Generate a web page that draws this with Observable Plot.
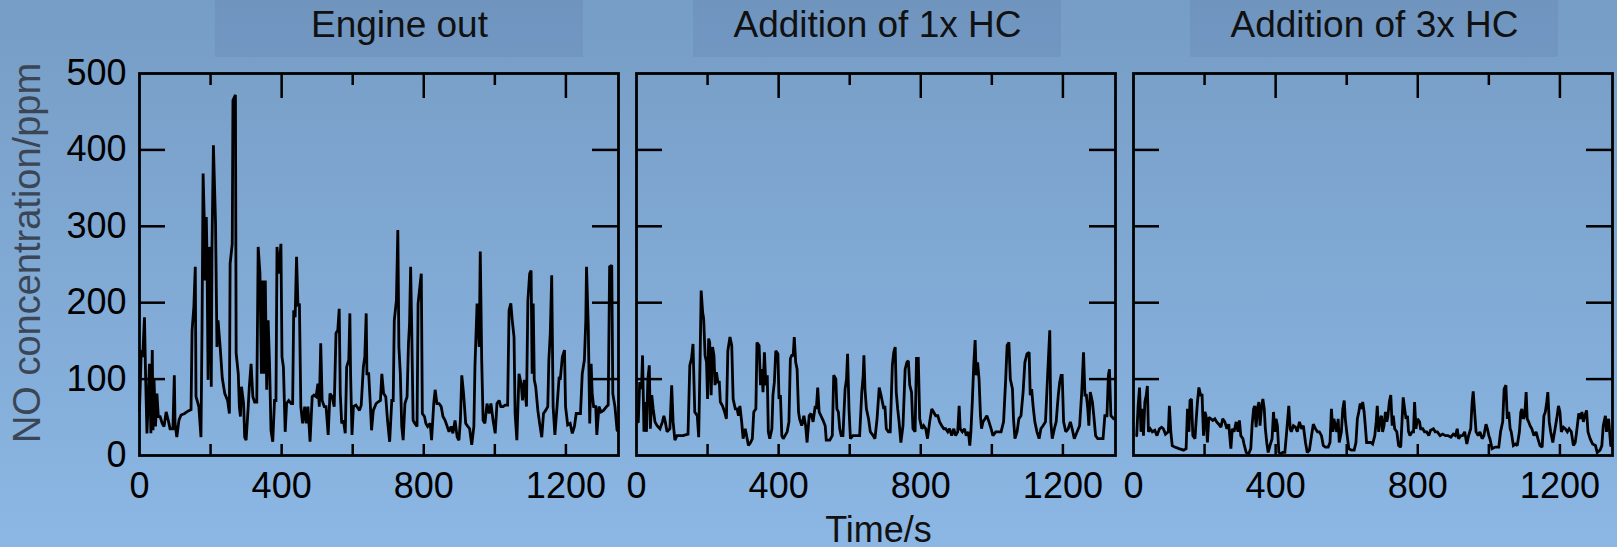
<!DOCTYPE html>
<html>
<head>
<meta charset="utf-8">
<script src="https://cdn.jsdelivr.net/npm/d3@7"></script>
<script src="https://cdn.jsdelivr.net/npm/@observablehq/plot@0.6"></script>
<style>
  html, body { margin: 0; padding: 0; overflow: hidden; }
  body {
    width: 1617px; height: 547px;
    background: linear-gradient(to bottom, #769dc5 0%, #80a9d4 50%, #8cb7e4 100%);
    font-family: "Liberation Sans", Arial, sans-serif;
  }
</style>
</head>
<body>
<div id="chart"></div>
<script>
// ---------- data ----------
const panels = ["Engine out", "Addition of 1x HC", "Addition of 3x HC"];
const xTicks = [0, 400, 800, 1200];
const xMinorTicks = [200, 600, 1000];
const yTicks = [0, 100, 200, 300, 400, 500];
const yLabel = "NO concentration/ppm";
const xLabel = "Time/s";

// Engine out
const time1 = [0,5,9,14,17,21,24,28,32,36,38,41,45,49,53,58,64,69,75,81,86,94,98,100,105,111,117,127,136,145,148,153,157,159,167,173,176,179,182,185,188,190,193,196,199,202,204,208,214,218,221,227,233,240,248,253,255,261,263,270,272,278,281,284,287,293,296,300,306,309,314,319,324,330,334,339,343,347,351,354,358,362,366,370,375,380,384,387,392,398,401,405,410,414,420,427,431,434,438,442,446,450,454,459,465,469,474,480,486,491,497,502,506,510,514,520,525,531,536,542,548,553,558,562,565,569,574,579,583,589,592,594,598,602,609,619,624,630,634,638,640,645,649,653,658,666,671,678,682,687,693,698,704,710,714,717,723,727,730,734,738,742,747,753,757,760,763,766,770,775,781,784,789,793,796,802,806,811,818,822,828,832,837,843,849,854,860,866,871,877,882,888,894,899,903,907,912,918,924,929,935,941,944,950,956,959,963,967,972,978,984,989,995,1001,1006,1012,1017,1023,1029,1036,1040,1045,1049,1054,1057,1062,1068,1074,1078,1083,1089,1093,1098,1102,1105,1108,1111,1115,1121,1126,1132,1137,1143,1149,1152,1156,1160,1164,1169,1175,1181,1184,1190,1196,1199,1205,1212,1218,1224,1229,1235,1241,1246,1252,1256,1258,1263,1267,1271,1274,1278,1284,1287,1293,1299,1306,1314,1319,1323,1329,1332,1338,1344];
const no1 = [59,138,129,181,107,29,64,120,29,138,33,99,38,81,51,51,42,38,57,46,35,35,105,42,24,46,53,55,58,60,164,195,247,77,64,24,168,369,312,229,312,260,99,273,238,90,273,406,304,142,177,142,101,81,72,55,251,277,465,472,134,107,64,51,90,68,24,20,64,90,120,77,70,70,273,238,107,229,107,229,86,177,120,33,18,72,72,273,238,277,129,116,31,68,72,68,68,190,181,260,195,199,64,42,64,42,64,18,77,79,77,94,64,147,72,64,64,27,81,77,64,160,164,192,81,42,46,29,116,125,186,107,27,64,66,59,66,116,129,186,107,107,72,33,59,68,70,72,107,81,77,46,18,72,72,177,203,295,142,107,38,20,68,77,147,173,247,168,46,42,38,199,221,238,55,51,42,38,42,20,68,86,68,68,64,51,46,38,31,38,29,46,24,20,46,105,81,42,38,35,14,38,116,199,142,267,125,46,42,68,55,68,46,29,68,72,64,64,66,66,190,199,177,155,55,20,107,94,72,99,64,203,238,242,107,199,99,90,59,42,24,55,59,64,125,160,236,64,27,64,103,99,129,138,64,40,42,29,38,55,55,55,107,125,177,247,168,42,120,81,64,64,27,64,57,59,64,66,247,249,81,64,33];

// Addition of 1x HC
const time2 = [5,9,14,17,21,24,28,32,36,39,43,47,52,58,66,73,77,81,86,94,99,103,108,114,131,145,150,155,159,164,171,175,179,182,186,189,193,197,200,203,206,210,214,218,221,225,229,233,236,242,248,253,257,263,268,272,278,283,287,291,296,300,306,309,315,321,326,330,336,339,345,349,353,356,360,364,368,371,375,381,384,388,392,398,401,405,409,413,418,424,429,433,437,441,444,448,452,456,459,465,471,476,480,486,491,497,503,506,510,514,519,525,531,534,544,551,555,561,564,568,572,576,581,587,591,594,598,602,609,628,634,638,640,643,647,653,658,666,671,677,683,688,692,696,699,703,709,714,720,724,728,731,735,739,744,750,756,761,765,769,774,778,784,788,793,797,803,808,814,819,825,831,836,842,848,853,859,865,870,876,881,887,893,898,904,908,911,917,923,928,934,938,941,945,949,953,956,960,964,968,971,975,981,986,992,998,1003,1011,1018,1026,1033,1039,1043,1048,1052,1058,1061,1065,1071,1076,1082,1088,1093,1099,1105,1108,1112,1116,1121,1127,1133,1138,1144,1151,1157,1163,1166,1170,1176,1181,1187,1191,1195,1198,1202,1208,1215,1221,1226,1232,1240,1247,1253,1258,1262,1266,1270,1273,1277,1283,1287,1292,1298,1313,1318,1324,1328,1331,1335,1343];
const no2 = [44,96,87,131,31,70,31,100,118,35,79,61,44,39,35,44,52,44,31,35,92,44,20,26,26,28,118,127,146,57,52,24,127,216,188,179,131,122,74,153,148,79,142,131,92,109,96,96,70,65,57,48,137,155,144,74,61,61,52,65,44,22,35,28,13,17,22,57,61,148,144,92,113,83,135,92,105,31,22,35,79,96,137,133,74,79,26,22,26,31,44,127,131,131,155,122,113,57,48,39,52,39,17,52,55,44,65,61,89,57,52,46,39,20,20,26,105,100,61,57,35,26,26,87,100,133,61,22,26,26,83,105,131,87,61,48,31,26,22,48,89,79,70,61,65,35,31,31,118,135,142,83,61,44,17,39,113,122,124,92,83,35,31,127,127,48,35,39,35,22,44,61,57,52,52,44,39,35,35,31,35,26,35,26,31,65,35,31,35,26,31,13,31,70,118,151,105,122,100,52,35,44,48,52,44,35,26,31,31,31,44,100,144,148,100,87,48,22,31,48,52,83,122,133,135,79,87,65,44,31,22,35,39,44,105,164,44,22,35,44,79,96,105,105,44,31,35,44,35,22,31,39,83,135,79,79,61,39,83,70,52,26,22,22,52,52,105,113,52,48];

// Addition of 3x HC
const time3 = [9,13,17,21,24,28,32,36,39,42,47,53,60,66,73,79,84,90,98,101,105,109,116,128,141,148,152,156,159,163,167,173,176,180,184,189,193,197,201,204,208,212,218,223,229,234,240,246,251,257,263,268,274,278,283,289,294,298,302,308,311,317,324,330,334,338,341,345,349,353,356,360,364,368,371,375,379,384,390,394,398,401,405,409,414,420,426,431,437,441,444,450,456,461,467,473,478,484,489,495,501,506,512,518,523,529,534,540,548,553,557,561,564,568,572,576,579,585,589,593,596,600,606,613,621,626,630,634,638,641,645,649,653,656,662,668,673,679,683,686,690,694,698,701,705,709,713,716,720,724,728,731,735,741,746,752,756,759,763,767,771,774,778,784,788,791,795,799,805,808,814,819,825,831,836,844,849,855,863,870,878,885,893,900,906,911,915,921,926,932,938,943,949,953,956,960,964,970,975,981,986,992,996,1000,1003,1009,1018,1028,1033,1039,1043,1048,1052,1056,1060,1063,1069,1075,1080,1086,1090,1093,1097,1101,1105,1108,1112,1116,1121,1127,1133,1138,1144,1150,1155,1159,1163,1166,1170,1174,1180,1185,1191,1196,1200,1204,1210,1215,1221,1226,1232,1238,1243,1247,1253,1258,1262,1266,1270,1275,1279,1285,1292,1300,1305,1313,1318,1322,1328,1331,1337,1343];
const no3 = [26,65,89,31,61,26,70,79,91,31,35,31,33,26,35,37,35,28,31,65,31,13,11,9,7,9,61,31,72,74,26,22,44,70,89,79,79,26,57,52,17,50,48,46,48,44,41,37,48,44,35,41,9,35,31,44,31,46,26,22,15,4,2,9,41,61,65,37,63,70,39,61,74,61,35,17,4,13,22,57,31,48,39,4,2,4,4,31,65,35,31,39,37,31,44,35,39,17,4,7,26,41,35,31,31,26,13,11,11,17,61,31,48,39,31,48,17,31,61,72,48,31,9,7,7,17,48,57,68,61,70,57,35,17,17,17,15,26,44,65,31,48,52,31,39,57,44,52,70,79,39,52,35,31,13,11,48,76,61,48,52,31,26,31,31,70,35,48,44,35,35,31,31,26,33,35,31,31,26,28,26,26,24,28,26,35,22,26,26,31,15,26,35,70,84,57,31,26,31,22,26,41,35,26,22,9,11,11,31,44,87,92,48,57,35,31,13,15,13,31,57,61,48,52,83,48,44,39,35,26,31,22,13,11,52,57,70,83,44,31,17,31,48,65,57,31,37,35,31,35,31,13,17,31,55,48,57,44,52,59,31,22,15,13,4,7,13,39,52,31,48,13];

// ---------- table for Plot ----------
const series = [[time1, no1], [time2, no2], [time3, no3]];
const rows = series.flatMap(([ts, vs], i) => ts.map((t, j) => ({panel: panels[i], t, v: vs[j]})));

// ---------- layout ----------
const W = 1617, H = 547;
const mL = 139, mR = 5, mT = 73, mB = 92;
const XMAX = 1348;
const gap = 18;
const innerW = W - mL - mR;
const step = (innerW + gap) / 3;
const panelW = step - gap;
const panelH = H - mT - mB;
const titleOffsets = [20.5, 1.5, 1.5];
const bandHalf = 184;
const font = "'Liberation Sans', Arial, Helvetica, sans-serif";

const titleMarks = panels.flatMap((p, i) => {
  const dx = titleOffsets[i];
  return [
    Plot.rect([{panel: p}], {
      fx: "panel", x1: 0, x2: XMAX, y1: 0, y2: 500,
      insetLeft: panelW / 2 + dx - bandHalf,
      insetRight: panelW / 2 - dx - bandHalf,
      insetTop: -mT, insetBottom: panelH + mT - 57,
      fill: "#1d3f6b", fillOpacity: 0.07
    }),
    Plot.text([{panel: p}], {
      fx: "panel", text: () => p, frameAnchor: "top", dx, dy: -48,
      textAnchor: "middle", lineAnchor: "middle",
      fontSize: 37, fontFamily: font, fill: "#111"
    })
  ];
});

const chart = Plot.plot({
  width: W, height: H,
  marginLeft: mL, marginRight: mR, marginTop: mT, marginBottom: mB,
  style: {background: "transparent", fontFamily: font, overflow: "visible"},
  fx: {domain: panels, paddingInner: gap / step, paddingOuter: 0, round: false, axis: null, label: null},
  x: {domain: [0, XMAX], axis: null},
  y: {domain: [0, 500], axis: null},
  marks: [
    ...titleMarks,
    // data
    Plot.line(rows, {x: "t", y: "v", fx: "panel", stroke: "#000", strokeWidth: 2.8, strokeLinejoin: "miter", strokeMiterlimit: 2}),
    // inward ticks
    Plot.tickX(xTicks.slice(1), {x: d => d, insetBottom: panelH - 25, stroke: "#000", strokeWidth: 2.5}),
    Plot.tickX(xMinorTicks, {x: d => d, insetBottom: panelH - 12, stroke: "#000", strokeWidth: 2.5}),
    Plot.tickX([...xTicks.slice(1), ...xMinorTicks], {x: d => d, insetTop: panelH - 11, stroke: "#000", strokeWidth: 2.5}),
    Plot.tickY(yTicks.slice(1, -1), {y: d => d, insetRight: panelW - 26, stroke: "#000", strokeWidth: 2.5}),
    Plot.tickY(yTicks.slice(1, -1), {y: d => d, insetLeft: panelW - 26, stroke: "#000", strokeWidth: 2.5}),
    Plot.frame({stroke: "#000", strokeWidth: 2.8}),
    // tick labels
    Plot.axisX({ticks: xTicks, tickSize: 0, tickPadding: 17, tickFormat: d => String(d), fontSize: 36, fill: "#000", label: null}),
    Plot.axisY({ticks: yTicks, tickSize: 0, tickPadding: 13, tickFormat: d => String(d), fontSize: 36, fill: "#000", label: null}),
    // axis titles
    Plot.text([{panel: panels[0]}], {
      fx: "panel", text: () => yLabel, frameAnchor: "left", dx: -112, dy: -11.5, rotate: -90,
      textAnchor: "middle", lineAnchor: "middle",
      fontSize: 38, fontFamily: font, fill: "#3a4655"
    }),
    Plot.text([{panel: panels[1]}], {
      fx: "panel", text: () => xLabel, frameAnchor: "bottom", dx: 2.5, dy: 74.5,
      textAnchor: "middle", lineAnchor: "middle",
      fontSize: 36, fontFamily: font, fill: "#111"
    })
  ]
});

document.getElementById("chart").appendChild(chart);
</script>
</body>
</html>
